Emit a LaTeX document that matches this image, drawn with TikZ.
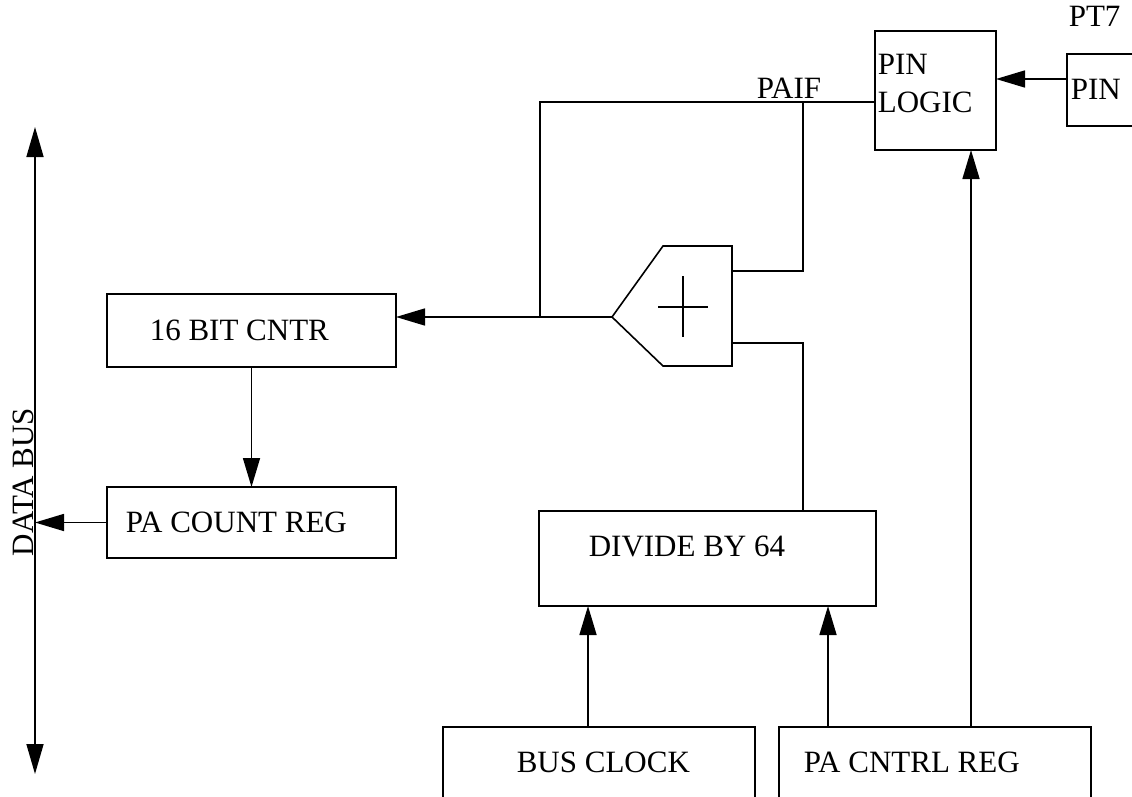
\documentclass[tikz,border=0pt]{standalone}
\usepackage{fontspec}
\setmainfont{Liberation Serif}
\usetikzlibrary{arrows.meta}
\begin{document}
\begin{tikzpicture}[x=1pt,y=-1pt,
  line width=1.6pt,
  box/.style={draw, rectangle, inner sep=0pt, outer sep=0pt, anchor=north west},
  lbl/.style={inner sep=0pt, anchor=base west, font=\fontsize{31}{37}\selectfont},
  arr/.style={-{Triangle[length=29pt,width=17pt]}}]
\useasboundingbox (0,0) rectangle (1132,797);
% data bus
\coordinate (bustop) at (35,127);
\coordinate (busbot) at (35,774);
\draw[{Triangle[length=30pt,width=17pt]}-{Triangle[length=30pt,width=17pt]}] (bustop) -- (busbot);
\node[lbl, rotate=90] (buslbl) at (33,557) {DATA BUS};
% boxes
\node[box, minimum width=289pt, minimum height=73pt] (cntr) at (107,294) {};
\node[lbl] (cntrlbl) at (149,340) {16 BIT CNTR};
\node[box, minimum width=289pt, minimum height=71pt] (count) at (107,487) {};
\node[lbl] (countlbl) at (125,532) {PA COUNT REG};
\node[box, minimum width=337pt, minimum height=95pt] (div) at (539,511) {};
\node[lbl] (divlbl) at (588,556) {DIVIDE BY 64};
\node[box, minimum width=312pt, minimum height=100pt] (clk) at (443,727) {};
\node[lbl] (clklbl) at (516,772) {BUS CLOCK};
\node[box, minimum width=312pt, minimum height=100pt] (ctrl) at (779,727) {};
\node[lbl] (ctrllbl) at (803,772) {PA CNTRL REG};
\node[box, minimum width=121pt, minimum height=119pt] (pinlogic) at (875,31) {};
\node[lbl] (pl1) at (877,75) {PIN};
\node[lbl] (pl2) at (877,113) {LOGIC};
\node[box, minimum width=90pt, minimum height=72pt] (pin) at (1067,54) {};
\node[lbl] (pinlbl) at (1070,100) {PIN};
\node[lbl] (pt7) at (1068,27) {PT7};
\node[lbl] (paif) at (756,99) {PAIF};
% adder
\coordinate (addtip) at (612,317);
\coordinate (addin1) at (732,271);
\coordinate (addin2) at (732,343);
\draw (addtip) -- (663,246) -- (732,246) -- (732,366) -- (663,366) -- cycle;
\draw (658,307) -- (708,307);
\draw (683,276) -- (683,337);
% connectors
\coordinate (jn) at (540,317);
\draw[arr] (addtip) -- (addtip -| cntr.east);
\draw (jn) -- (540,102) -- (540,102 -| pinlogic.west);
\draw (addin1) -- (803,271) -- (803,102);
\draw (addin2) -- (803,343) -- (803,343 |- div.north);
\draw[arr] (cntr.south) -- (count.north);
\draw[arr] (count.west) -- (count.west -| bustop);
\draw[arr] (clk.north -| 588,0) -- (div.south -| 588,0);
\draw[arr] (ctrl.north -| 828,0) -- (div.south -| 828,0);
\draw[arr] (ctrl.north -| 971,0) -- (pinlogic.south -| 971,0);
\draw[arr] (pin.west |- 0,79) -- (pinlogic.east |- 0,79);
\end{tikzpicture}
\end{document}
